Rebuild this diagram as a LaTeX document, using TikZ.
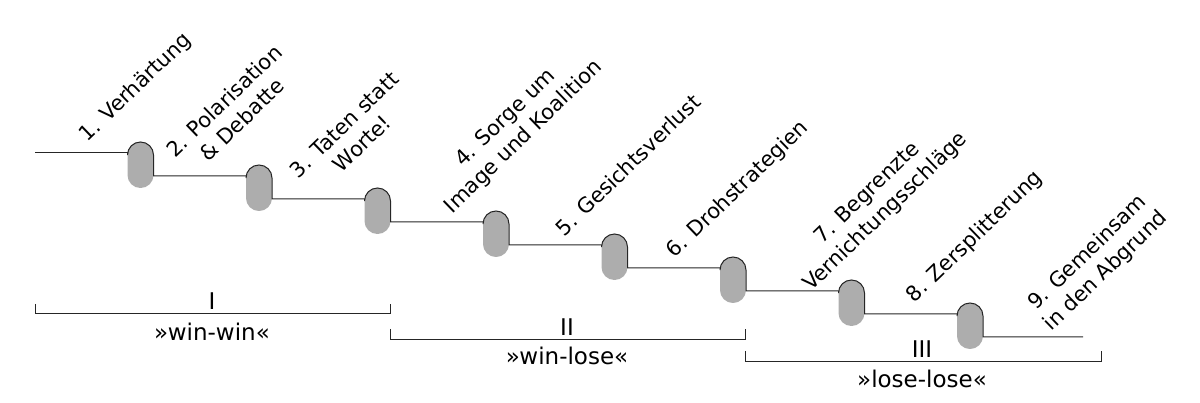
\documentclass[tikz,border=0pt]{standalone}
\usepackage{fontspec}
\setmainfont{DejaVu Sans}
\begin{document}
\begin{tikzpicture}[x=1pt,y=-1pt,
  lbl/.style={rotate=44,align=center,font=\fontsize{21}{26}\selectfont,inner sep=0pt},
  brk/.style={font=\fontsize{23}{26}\selectfont,inner sep=0pt},
  ln/.style={draw=black!85,line width=1pt},
  pillfill/.style={fill=black!32}]
\useasboundingbox (0,0) rectangle (1200,403);
\coordinate (s0) at (35,153);
\foreach \i in {1,...,8}{
  \pgfmathsetmacro{\cx}{140.5+118.5*(\i-1)}
  \pgfmathsetmacro{\ty}{142+23*(\i-1)}
  \fill[pillfill,rounded corners=12.9] (\cx-13,\ty) rectangle (\cx+13,\ty+46);
  \coordinate (pl\i) at (\cx-13,\ty+11);
  \coordinate (pr\i) at (\cx+13,\ty+34);
}
\coordinate (e9) at (1083,337);
\draw[ln] (s0) -- (pl1);
\foreach \i [evaluate=\i as \j using int(\i+1)] in {1,...,7}{
  \draw[ln] (pl\i) -- ++(0,2) arc[start angle=180,end angle=360,radius=13] -- (pr\i) -- (pl\j);
}
\draw[ln] (pl8) -- ++(0,2) arc[start angle=180,end angle=360,radius=13] -- (pr8) -- (e9);

\node[lbl] (t1) at (136,88) {1. Verhärtung};
\node[lbl] (t2) at (233,110) {2. Polarisation\\\& Debatte};
\node[lbl] (t3) at (353,134) {3. Taten statt\\Worte!};
\node[lbl] (t4) at (515,128) {4. Sorge um\\Image und Koalition};
\node[lbl] (t5) at (628,165) {5. Gesichtsverlust};
\node[lbl] (t6) at (738,190) {6. Drohstrategien};
\node[lbl] (t7) at (877,203) {7. Begrenzte\\Vernichtungsschläge};
\node[lbl] (t8) at (975,237) {8. Zersplitterung};
\node[lbl] (t9) at (1097,262) {9. Gemeinsam\\in den Abgrund};

\draw[ln] (35,304) -- (35,314) -- (390,314) -- (390,304);
\node[brk] (b1) at (212,301) {I};
\node[brk] (w1) at (212,332) {»win-win«};
\draw[ln] (390,329) -- (390,340) -- (745,340) -- (745,329);
\node[brk] (b2) at (567,327) {II};
\node[brk] (w2) at (567,356) {»win-lose«};
\draw[ln] (745,351) -- (745,362) -- (1101,362) -- (1101,351);
\node[brk] (b3) at (922,349) {III};
\node[brk] (w3) at (922,379) {»lose-lose«};
\end{tikzpicture}
\end{document}
